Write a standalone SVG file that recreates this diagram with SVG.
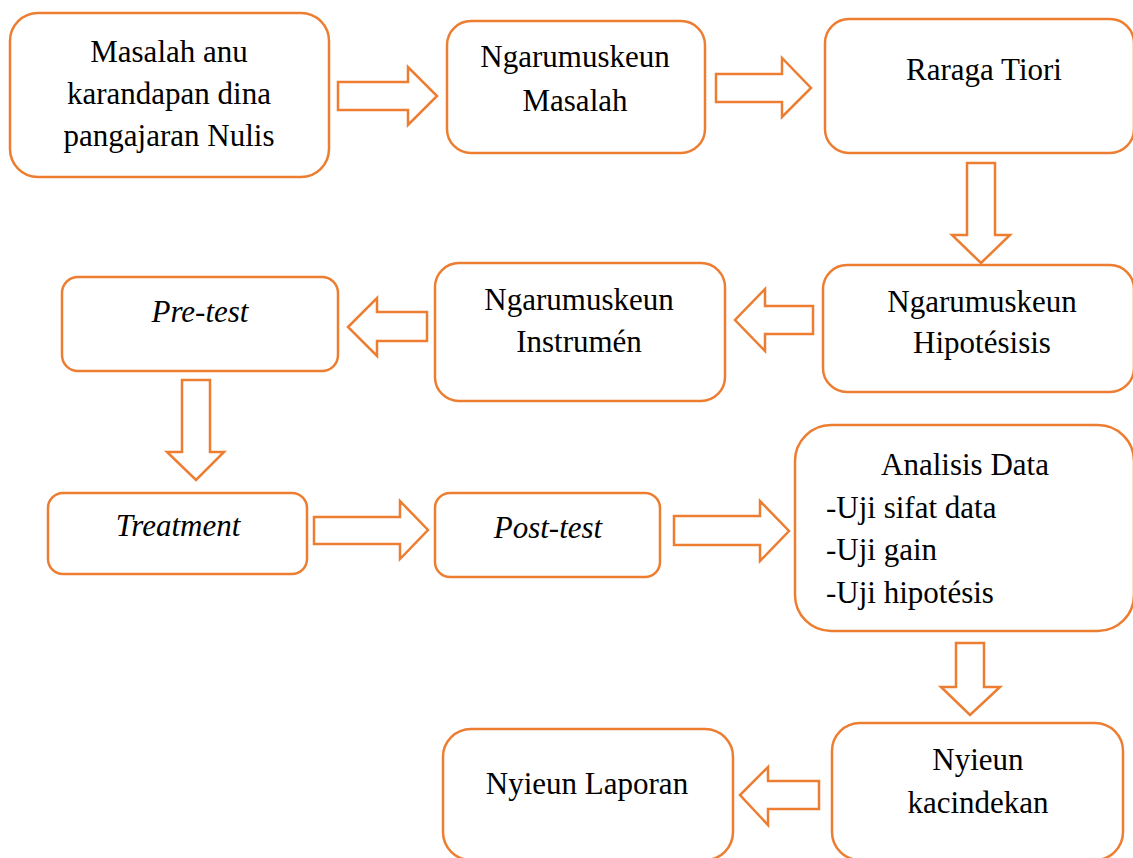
<svg xmlns="http://www.w3.org/2000/svg" width="1133" height="858" viewBox="0 0 1133 858">
<style>
.box{fill:#ffffff;stroke:#ED7D31;stroke-width:2.5}
.arr{fill:#ffffff;stroke:#ED7D31;stroke-width:2.5;stroke-linejoin:miter}
.t{font-family:'Liberation Serif','Times New Roman',serif;font-size:31px;fill:#000000}
.c{text-anchor:middle}
.i{font-style:italic}
</style>
<rect width="1133" height="858" fill="#ffffff"/>
<g id="connectors">
<path class="arr" d="M338,82 H408 V67 L437,96 L408,125 V110 H338 Z"/>
<path class="arr" d="M716,74 H782 V58 L811,88 L782,117 V102 H716 Z"/>
<path class="arr" d="M967,163 H995 V235 H1010 L981,263 L952,235 H967 Z"/>
<path class="arr" d="M813,306 V334 H765 V351 L735,320 L765,289 V306 Z"/>
<path class="arr" d="M427,312 V341 H377 V356 L348,327 L377,298 V312 Z"/>
<path class="arr" d="M182,380 H210 V452 H224 L196,480 L167,452 H182 Z"/>
<path class="arr" d="M314,517 H400 V501 L428,530 L400,559 V544 H314 Z"/>
<path class="arr" d="M674,516 H760 V501 L789,531 L760,561 V545 H674 Z"/>
<path class="arr" d="M956,643 H984 V687 H1000 L970,715 L941,687 H956 Z"/>
<path class="arr" d="M819,781 V809 H768 V825 L740,795 L768,767 V781 Z"/>
</g>
<g class="t">
<g id="n1"><rect class="box" x="10" y="13" width="319" height="164" rx="28"/>
<text class="c" x="169" y="62">Masalah anu</text><text class="c" x="169" y="104">karandapan dina</text><text class="c" x="169" y="146">pangajaran Nulis</text></g>
<g id="n2"><rect class="box" x="447" y="21" width="258" height="132" rx="24"/>
<text class="c" x="575" y="67">Ngarumuskeun</text><text class="c" x="575" y="111">Masalah</text></g>
<g id="n3"><rect class="box" x="825" y="19" width="309" height="134" rx="24"/>
<text class="c" x="984" y="80">Raraga Tiori</text></g>
<g id="n4"><rect class="box" x="823" y="265" width="311" height="127" rx="24"/>
<text class="c" x="982" y="312">Ngarumuskeun</text><text class="c" x="982" y="353">Hipotésisis</text></g>
<g id="n5"><rect class="box" x="435" y="263" width="290" height="138" rx="24"/>
<text class="c" x="579" y="310">Ngarumuskeun</text><text class="c" x="579" y="352">Instrumén</text></g>
<g id="n6"><rect class="box" x="62" y="277" width="276" height="94" rx="16"/>
<text class="c i" x="200" y="322">Pre-test</text></g>
<g id="n7"><rect class="box" x="48" y="493" width="259" height="81" rx="15"/>
<text class="c i" x="178" y="536">Treatment</text></g>
<g id="n8"><rect class="box" x="435" y="493" width="225" height="84" rx="15"/>
<text class="c i" x="548" y="538">Post-test</text></g>
<g id="n9"><rect class="box" x="795" y="425" width="339" height="206" rx="36"/>
<text class="c" x="965" y="475">Analisis Data</text>
<text x="826" y="518">-Uji sifat data</text>
<text x="826" y="560">-Uji gain</text>
<text x="826" y="603">-Uji hipotésis</text></g>
<g id="n10"><rect class="box" x="832" y="723" width="291" height="137" rx="28"/>
<text class="c" x="978" y="770">Nyieun</text><text class="c" x="978" y="813">kacindekan</text></g>
<g id="n11"><rect class="box" x="443" y="729" width="290" height="131" rx="28"/>
<text class="c" x="587" y="794">Nyieun Laporan</text></g>
</g>
</svg>
